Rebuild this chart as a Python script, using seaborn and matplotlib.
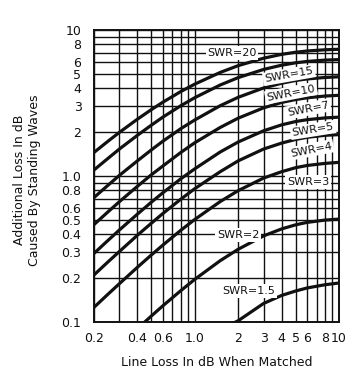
import numpy as np
import pandas as pd
import matplotlib
matplotlib.use("Agg")
import matplotlib.pyplot as plt
import seaborn as sns
from matplotlib.ticker import FixedLocator, FixedFormatter, NullFormatter

# ---- data ----
line_loss = [0.2, 0.25, 0.3, 0.4, 0.5, 0.6, 0.8, 1.0, 1.5, 2, 3, 4, 5, 6, 8, 10]
loss_swr20 = [1.45, 1.73, 1.99, 2.45, 2.85, 3.20, 3.79, 4.26, 5.12, 5.70, 6.41, 6.81, 7.04, 7.18, 7.32, 7.38]
loss_swr15 = [1.10, 1.32, 1.53, 1.90, 2.23, 2.53, 3.03, 3.44, 4.20, 4.72, 5.37, 5.74, 5.96, 6.09, 6.22, 6.27]
loss_swr10 = [0.712, 0.864, 1.01, 1.27, 1.51, 1.73, 2.11, 2.42, 3.03, 3.46, 4.01, 4.32, 4.51, 4.62, 4.73, 4.78]
loss_swr7 = [0.465, 0.568, 0.667, 0.850, 1.02, 1.17, 1.45, 1.69, 2.15, 2.49, 2.93, 3.19, 3.34, 3.43, 3.53, 3.57]
loss_swr5 = [0.295, 0.362, 0.427, 0.548, 0.662, 0.767, 0.957, 1.12, 1.46, 1.71, 2.04, 2.24, 2.36, 2.43, 2.50, 2.53]
loss_swr4 = [0.210, 0.258, 0.304, 0.393, 0.475, 0.553, 0.694, 0.819, 1.07, 1.27, 1.53, 1.68, 1.78, 1.84, 1.90, 1.92]
loss_swr3 = [0.126, 0.155, 0.183, 0.237, 0.288, 0.336, 0.425, 0.504, 0.668, 0.794, 0.968, 1.07, 1.14, 1.18, 1.22, 1.24]
loss_swr2 = [0.048, 0.059, 0.069, 0.090, 0.110, 0.129, 0.164, 0.196, 0.263, 0.315, 0.389, 0.434, 0.463, 0.481, 0.499, 0.507]
loss_swr1_5 = [0.016, 0.020, 0.023, 0.030, 0.037, 0.043, 0.055, 0.066, 0.089, 0.102, 0.134, 0.152, 0.163, 0.171, 0.180, 0.185]

swr_names = ["SWR=20", "SWR=15", "SWR=10", "SWR=7", "SWR=5", "SWR=4", "SWR=3", "SWR=2", "SWR=1.5"]
swr_series = [loss_swr20, loss_swr15, loss_swr10, loss_swr7, loss_swr5, loss_swr4, loss_swr3, loss_swr2, loss_swr1_5]

# label anchor positions (data coords) and rotations
label_x = [1.81, 4.50, 4.65, 6.10, 6.60, 6.40, 6.10, 2.00, 2.38]
label_y = [6.95, 4.92, 3.70, 2.88, 2.07, 1.51, 0.91, 0.394, 0.163]
label_rot = [0, 10, 11, 11, 9, 11, 0, 0, 0]

x_ticks = [0.2, 0.4, 0.6, 1.0, 2, 3, 4, 5, 6, 8, 10]
x_ticklabels = ["0.2", "0.4", "0.6", "1.0", "2", "3", "4", "5", "6", "8", "10"]
x_minor = [0.3, 0.5, 0.7, 0.8, 0.9, 7, 9]
y_ticks = [0.1, 0.2, 0.3, 0.4, 0.5, 0.6, 0.8, 1.0, 2, 3, 4, 5, 6, 8, 10]
y_ticklabels = ["0.1", "0.2", "0.3", "0.4", "0.5", "0.6", "0.8", "1.0", "2", "3", "4", "5", "6", "8", "10"]
y_minor = [0.7, 0.9, 7, 9]

# ---- build table ----
rows = []
for name, vals in zip(swr_names, swr_series):
    for lx, v in zip(line_loss, vals):
        rows.append({"loss": lx, "extra": v, "swr": name})
df = pd.DataFrame(rows)

sns.set_style("white")
plt.rcParams["font.family"] = ["DejaVu Sans"]

fig = plt.figure(figsize=(3.57, 3.82), dpi=100)
fig.patch.set_facecolor("white")
ax = fig.add_axes([94 / 357, 1 - 322 / 382, (339 - 94) / 357, (322 - 30) / 382])

sns.lineplot(data=df, x="loss", y="extra", hue="swr",
             palette={n: "#111111" for n in swr_names},
             estimator=None, sort=False, legend=False, lw=2.3, ax=ax,
             zorder=3)

ax.set_xscale("log")
ax.set_yscale("log")
ax.set_xlim(0.2, 10)
ax.set_ylim(0.1, 10)

ax.xaxis.set_major_locator(FixedLocator(x_ticks))
ax.xaxis.set_major_formatter(FixedFormatter(x_ticklabels))
ax.xaxis.set_minor_locator(FixedLocator(x_minor))
ax.xaxis.set_minor_formatter(NullFormatter())
ax.yaxis.set_major_locator(FixedLocator(y_ticks))
ax.yaxis.set_major_formatter(FixedFormatter(y_ticklabels))
ax.yaxis.set_minor_locator(FixedLocator(y_minor))
ax.yaxis.set_minor_formatter(NullFormatter())

ax.grid(True, which="both", color="#111111", lw=1.0)
ax.set_axisbelow(True)
ax.tick_params(which="both", length=0)
ax.tick_params(axis="x", labelsize=9, pad=7, colors="#111111")
ax.tick_params(axis="y", labelsize=9, pad=9, colors="#111111")
for s in ax.spines.values():
    s.set_visible(True)
    s.set_color("#111111")
    s.set_linewidth(1.4)

ax.set_xlabel("")
ax.set_ylabel("")

for name, lx, ly, rot in zip(swr_names, label_x, label_y, label_rot):
    ax.text(lx, ly, name, fontsize=8, ha="center", va="center", rotation=rot,
            rotation_mode="anchor", color="#111111", zorder=5,
            bbox=dict(facecolor="white", edgecolor="none", pad=1.2))

fig.text(216.5 / 357, 1 - 362 / 382, "Line Loss In dB When Matched",
         fontsize=9, ha="center", va="center", color="#111111")
fig.text(27 / 357, 1 - 180 / 382, "Additional Loss In dB\nCaused By Standing Waves",
         fontsize=9, ha="center", va="center", rotation=90,
         multialignment="center", linespacing=1.25, color="#111111")

fig.savefig("out.png", dpi=100, facecolor="white")
